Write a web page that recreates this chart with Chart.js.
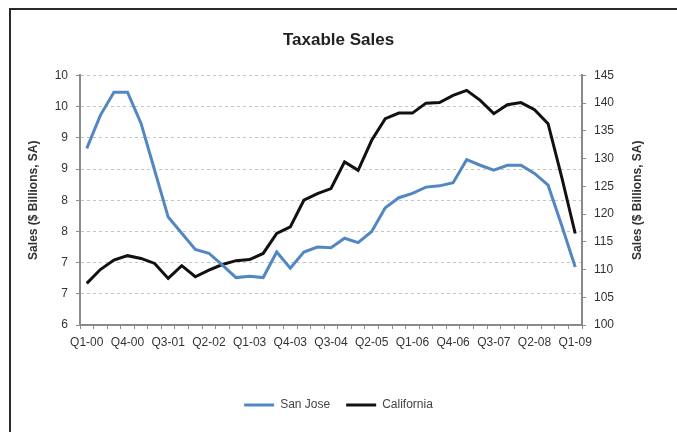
<!DOCTYPE html>
<html>
<head>
<meta charset="utf-8">
<title>Taxable Sales</title>
<script src="https://cdn.jsdelivr.net/npm/chart.js@4.4.1/dist/chart.umd.min.js"></script>
<style>
  html, body { margin: 0; padding: 0; background: #fff; }
  #wrap { position: relative; width: 677px; height: 432px; }
  #frame {
    position: absolute; left: 9px; top: 8px; right: 0; bottom: 0;
    border-top: 2px solid #2a2a2a; border-left: 2px solid #2a2a2a;
  }
  #salesChart { position: absolute; left: 0; top: 0; }
</style>
</head>
<body>
<div id="wrap">
  <div id="frame"></div>
  <canvas id="salesChart" width="677" height="432"></canvas>
</div>
<script>
// quarters Q1-00 .. Q1-09
const quarters = [
  'Q1-00', 'Q2-00', 'Q3-00', 'Q4-00',
  'Q1-01', 'Q2-01', 'Q3-01', 'Q4-01',
  'Q1-02', 'Q2-02', 'Q3-02', 'Q4-02',
  'Q1-03', 'Q2-03', 'Q3-03', 'Q4-03',
  'Q1-04', 'Q2-04', 'Q3-04', 'Q4-04',
  'Q1-05', 'Q2-05', 'Q3-05', 'Q4-05',
  'Q1-06', 'Q2-06', 'Q3-06', 'Q4-06',
  'Q1-07', 'Q2-07', 'Q3-07', 'Q4-07',
  'Q1-08', 'Q2-08', 'Q3-08', 'Q4-08',
  'Q1-09'
];

// $ billions, seasonally adjusted (left axis)
const sanJose = [
  8.83, 9.36, 9.73, 9.73, 9.23, 8.48, 7.73, 7.47, 7.21, 7.15,
  6.96, 6.76, 6.78, 6.76, 7.17, 6.91, 7.17, 7.25, 7.24, 7.39,
  7.32, 7.50, 7.88, 8.04, 8.11, 8.21, 8.23, 8.28, 8.65, 8.56,
  8.48, 8.56, 8.56, 8.43, 8.24, 7.60, 6.93
];

// $ billions, seasonally adjusted (right axis)
const california = [
  107.5, 110.0, 111.7, 112.5, 112.0, 111.1, 108.4, 110.7, 108.7, 109.9,
  110.9, 111.6, 111.8, 112.9, 116.5, 117.7, 122.5, 123.7, 124.6, 129.4,
  127.9, 133.3, 137.2, 138.2, 138.2, 140.0, 140.1, 141.4, 142.3, 140.5,
  138.1, 139.7, 140.1, 138.8, 136.3, 126.7, 116.5
];

// axis ranges
const leftTicks = { min: 6, max: 10, step: 0.5 };
const rightTicks = { min: 100, max: 145, step: 5 };
const labelEvery = 3;
const axisTitle = 'Sales ($ Billions, SA)';

const FONT = "'Liberation Sans', Arial, Helvetica, sans-serif";
const AXIS = '#8a8a8a';
const TEXT = '#333';

Chart.defaults.font.family = FONT;
Chart.defaults.color = TEXT;

// right-hand axis title reads bottom-to-top like the left one
const rightTitle = {
  id: 'rightTitle',
  afterDraw(chart) {
    const { ctx, chartArea } = chart;
    ctx.save();
    ctx.translate(638, (chartArea.top + chartArea.bottom) / 2);
    ctx.rotate(-Math.PI / 2);
    ctx.font = 'bold 12px ' + FONT;
    ctx.fillStyle = TEXT;
    ctx.textAlign = 'center';
    ctx.textBaseline = 'middle';
    ctx.fillText(axisTitle, 0, 0);
    ctx.restore();
  }
};

const ctx = document.getElementById('salesChart').getContext('2d');
new Chart(ctx, {
  type: 'line',
  data: {
    labels: quarters,
    datasets: [
      {
        label: 'San Jose',
        data: sanJose,
        yAxisID: 'yLeft',
        borderColor: '#5287c4',
        backgroundColor: '#5287c4',
        borderWidth: 3,
        pointRadius: 0,
        pointStyle: 'line',
        tension: 0
      },
      {
        label: 'California',
        data: california,
        yAxisID: 'yRight',
        borderColor: '#111',
        backgroundColor: '#111',
        borderWidth: 3,
        pointRadius: 0,
        pointStyle: 'line',
        tension: 0
      }
    ]
  },
  plugins: [rightTitle],
  options: {
    responsive: false,
    animation: false,
    layout: { padding: { bottom: 11 } },
    plugins: {
      title: {
        display: true,
        text: 'Taxable Sales',
        color: '#222',
        font: { size: 17, weight: 'bold' },
        padding: { top: 30, bottom: 25 }
      },
      legend: {
        position: 'bottom',
        labels: {
          usePointStyle: true,
          pointStyleWidth: 30,
          padding: 16,
          color: '#444',
          font: { size: 12 }
        }
      },
      tooltip: { enabled: false }
    },
    scales: {
      x: {
        offset: true,
        afterFit: (s) => { s.height = 58; },
        grid: { drawOnChartArea: false, tickLength: 4, color: AXIS, offset: true },
        border: { color: AXIS, width: 2 },
        ticks: {
          autoSkip: false,
          maxRotation: 0,
          padding: 6,
          color: TEXT,
          font: { size: 12 },
          callback: (v, i) => (i % labelEvery === 0 ? quarters[i] : '')
        }
      },
      yLeft: {
        position: 'left',
        min: leftTicks.min,
        max: leftTicks.max,
        afterFit: (s) => { s.width = 80; },
        grid: { color: '#c4c4c4', tickColor: AXIS, tickLength: 4 },
        border: { color: AXIS, width: 2, dash: [3, 3] },
        ticks: {
          stepSize: leftTicks.step,
          padding: 8,
          color: TEXT,
          font: { size: 12 },
          callback: (v) => Math.round(v)
        },
        title: {
          display: true,
          text: axisTitle,
          color: TEXT,
          font: { size: 12, weight: 'bold' },
          padding: { top: 26 }
        }
      },
      yRight: {
        position: 'right',
        min: rightTicks.min,
        max: rightTicks.max,
        afterFit: (s) => { s.width = 95; },
        grid: { drawOnChartArea: false, color: AXIS, tickLength: 4 },
        border: { color: AXIS, width: 2 },
        ticks: {
          stepSize: rightTicks.step,
          padding: 8,
          color: TEXT,
          font: { size: 12 }
        }
      }
    }
  }
});
</script>
</body>
</html>
